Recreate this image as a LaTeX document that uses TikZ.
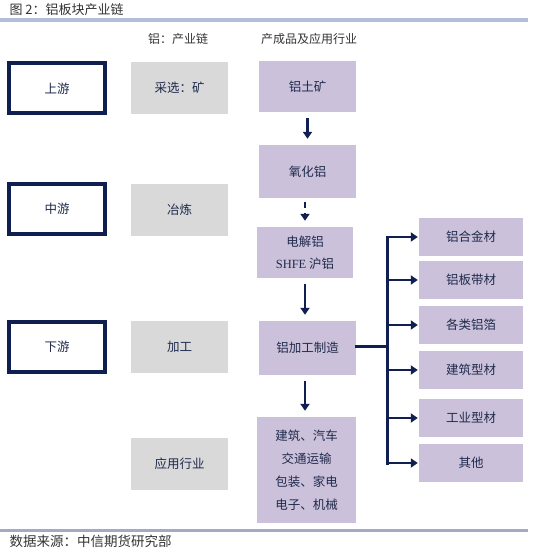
\documentclass[tikz,border=0pt]{standalone}
\usepackage{fontspec}
\setmainfont{Noto Sans CJK SC}
\newfontfamily\latinserif{Liberation Serif}
\usetikzlibrary{arrows.meta,positioning}
\definecolor{navy}{HTML}{0E1F50}
\definecolor{chaingrey}{HTML}{D9D9D9}
\definecolor{lavender}{HTML}{CCC1DA}
\definecolor{rulecol}{HTML}{B3BFD8}
\definecolor{boxtext}{HTML}{1F2A4D}
\definecolor{titlegrey}{HTML}{333333}

\begin{document}
\begin{tikzpicture}[x=1pt, y=-1pt,
    every node/.style={font=\fontsize{12.5}{22}\selectfont, text=boxtext},
    stagebox/.style={draw=navy, line width=4pt, fill=white, minimum width=96pt, minimum height=50pt, inner sep=0pt},
    chainbox/.style={fill=chaingrey, minimum width=97pt, minimum height=52pt, inner sep=0pt},
    prodbox/.style={fill=lavender, minimum width=97pt, minimum height=52pt, inner sep=0pt, align=center},
    itembox/.style={fill=lavender, minimum width=104pt, minimum height=38pt, inner sep=0pt},
    flow/.style={draw=navy, line width=2.5pt, -{Triangle[length=7pt, width=9pt]}, shorten <=6pt, shorten >=6pt},
    busline/.style={draw=navy, line width=3pt, line cap=rect},
    branch/.style={draw=navy, line width=2.5pt, -{Triangle[length=7pt, width=9pt]}, shorten >=1pt}]
    \useasboundingbox (0,0) rectangle (542,548);

    % title and rules
    \node[anchor=west, text=titlegrey, font=\fontsize{13}{15}\selectfont] (title) at (6,10) {图 2：铝板块产业链};
    \draw[rulecol, line width=4pt] (0,20) -- (528,20);
    \draw[rulecol!90!black, line width=3pt] (0,530) -- (528,530);
    \node[anchor=west, text=titlegrey, font=\fontsize{13.5}{15}\selectfont] (source) at (6,541) {数据来源：中信期货研究部};

    % column headers
    \node[text=titlegrey, font=\fontsize{12}{14}\selectfont] (hdchain) at (178,39) {铝：产业链};
    \node[text=titlegrey, font=\fontsize{12}{14}\selectfont] (hdprod) at (309,39) {产成品及应用行业};

    % stages
    \node[stagebox] (up) at (57,88.5) {上游};
    \node[stagebox] (mid) at (57,209) {中游};
    \node[stagebox] (down) at (57,347) {下游};

    % chain
    \node[chainbox] (mining) at (179.5,88) {采选：矿};
    \node[chainbox] (smelt) at (179.5,209.5) {冶炼};
    \node[chainbox] (fab) at (179.5,347) {加工};
    \node[chainbox] (appl) at (179.5,463.5) {应用行业};

    % products
    \node[prodbox, minimum height=51pt] (ore) at (307.5,86.5) {铝土矿};
    \node[prodbox, minimum height=53pt] (alumina) at (307.5,171.5) {氧化铝};
    \node[prodbox, minimum width=96pt, minimum height=51pt] (ingot) at (305,252.5) {电解铝\\{\latinserif SHFE} 沪铝};
    \node[prodbox, minimum height=54pt] (proc) at (307.5,348) {铝加工制造};
    \node[prodbox, minimum width=99pt, minimum height=106pt, font=\fontsize{12.5}{23}\selectfont] (users) at (306.5,470) {建筑、汽车\\交通运输\\包装、家电\\电子、机械};

    % semi-finished products
    \node[itembox] (alloy) at (471,237) {铝合金材};
    \node[itembox] (sheet) at (471,280) {铝板带材};
    \node[itembox] (foil) at (471,325) {各类铝箔};
    \node[itembox] (build) at (471,370) {建筑型材};
    \node[itembox] (indus) at (471,418) {工业型材};
    \node[itembox] (other) at (471,463) {其他};

    \draw[flow] (ore) -- (alumina);
    \draw[flow, shorten <=4pt, dash pattern=on 6pt off 5pt] (alumina.south -| ingot) -- (ingot);
    \draw[flow] (ingot) -- (ingot |- proc.north);
    \draw[flow] (ingot |- proc.south) -- (ingot |- users.north);

    \coordinate (bus) at (387,346);
    \draw[busline] (proc.east |- bus) -- (bus);
    \draw[busline] (bus |- alloy.west) -- (bus |- other.west);
    \draw[branch] (bus |- alloy.west) -- (alloy.west);
    \draw[branch] (bus |- sheet.west) -- (sheet.west);
    \draw[branch] (bus |- foil.west) -- (foil.west);
    \draw[branch] (bus |- build.west) -- (build.west);
    \draw[branch] (bus |- indus.west) -- (indus.west);
    \draw[branch] (bus |- other.west) -- (other.west);
\end{tikzpicture}
\end{document}
